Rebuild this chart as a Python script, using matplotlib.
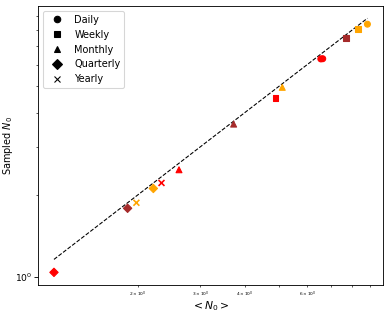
import matplotlib
matplotlib.use('Agg')
import matplotlib.pyplot as plt
from matplotlib.lines import Line2D

# values (x = <N0>, y = sampled N0)
daily_x = [6.55, 6.63, 8.86]
daily_y = [6.29, 6.30, 8.43]
daily_c = ['red', 'red', 'orange']

weekly_x = [4.88, 7.71, 8.32]
weekly_y = [4.51, 7.51, 8.10]
weekly_c = ['red', 'brown', 'orange']

monthly_x = [2.61, 3.72, 5.10]
monthly_y = [2.47, 3.63, 4.95]
monthly_c = ['red', 'brown', 'orange']

quarterly_x = [1.16, 1.87, 2.21]
quarterly_y = [1.04, 1.785, 2.11]
quarterly_c = ['red', 'brown', 'orange']

yearly_x = [2.33, 1.98]
yearly_y = [2.21, 1.87]
yearly_c = ['red', 'orange']

labels = ['Daily', 'Weekly', 'Monthly', 'Quarterly', 'Yearly']
markers = ['o', 's', '^', 'D', 'x']

plt.rcParams['font.size'] = 9

fig = plt.figure(figsize=(5, 4), dpi=77.8)
ax = fig.add_axes([0.0985, 0.0836, 0.886, 0.897])

groups = [(daily_x, daily_y, daily_c), (weekly_x, weekly_y, weekly_c),
          (monthly_x, monthly_y, monthly_c), (quarterly_x, quarterly_y, quarterly_c),
          (yearly_x, yearly_y, yearly_c)]
for (gx, gy, gc), m in zip(groups, markers):
        ax.scatter(gx, gy, c=gc, marker=m, s=30, zorder=3)

all_x = sum([g[0] for g in groups], [])
lo, hi = min(all_x), max(all_x)
ax.plot([lo, hi], [lo, hi], 'k--', lw=1, zorder=2) #y = x reference line

ax.set_xscale('log')
ax.set_yscale('log')
ax.set_xlim(1.048, 9.80)
ax.set_ylim(0.935, 9.84)
ax.tick_params(axis='x', which='minor', labelsize=4, pad=2)
ax.tick_params(axis='y', which='major', labelsize=8.5, pad=2.5)

ax.set_xlabel(r'$< N_0 >$', fontsize=10, labelpad=0)
ax.set_ylabel(r'Sampled $N_0$', fontsize=9)
ax.yaxis.set_label_coords(-0.068, 0.5)

handles = [Line2D([], [], color='black', marker=m, linestyle='none') for m in markers]
ax.legend(handles, labels, loc='upper left', fontsize=9)

fig.savefig('out.png', dpi=77.8)
